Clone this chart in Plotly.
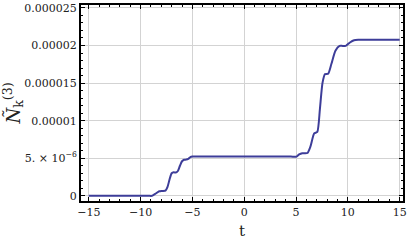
import plotly.graph_objects as go

t_vals = [-15, -10, -9.2, -8.9, -8.6, -8.2, -7.9, -7.6, -7.4, -7.2, -7.0, -6.8, -6.6, -6.4, -6.2, -6.0, -5.8,
          -5.6, -5.4, -5.2, -5.0, -4.5, 0, 4.5, 5.05, 5.3, 5.6, 6.1, 6.4, 6.75, 7.05, 7.3, 7.55, 7.8, 8.1,
          8.4, 8.8, 9.2, 9.5, 9.8, 10.2, 10.6, 11.0, 12, 15]
n_vals = [0, 0, 0, 0.0, 0.25e-6, 0.6e-6, 0.65e-6, 0.7e-6, 1.2e-6, 2.2e-6, 3.0e-6, 3.13e-6, 3.1e-6, 3.3e-6,
          4.0e-6, 4.6e-6, 4.8e-6, 4.82e-6, 4.9e-6, 5.15e-6, 5.22e-6, 5.22e-6, 5.22e-6, 5.22e-6, 5.22e-6,
          5.5e-6, 5.67e-6, 5.7e-6, 6.6e-6, 8.3e-6, 8.5e-6, 11.5e-6, 15.0e-6, 16.2e-6, 16.25e-6,
          17.5e-6, 19.3e-6, 19.95e-6, 19.95e-6, 19.95e-6, 20.4e-6, 20.7e-6, 20.76e-6, 20.76e-6, 20.76e-6]

y_tickvals = [0, 5e-6, 1e-5, 1.5e-5, 2e-5, 2.5e-5]
y_ticktext = ["0", "5. × 10<sup>−6</sup>", "0.00001", "0.000015", "0.00002", "0.000025"]
x_tickvals = [-15, -10, -5, 0, 5, 10, 15]
x_ticktext = ["−15", "−10", "−5", "0", "5", "10", "15"]

SERIF = "DejaVu Serif"

fig = go.Figure()
fig.add_trace(go.Scatter(x=t_vals, y=n_vals, mode="lines",
                         line=dict(color="#3d3d99", width=2, shape="spline", smoothing=0.6),
                         showlegend=False))

axis_common = dict(showline=True, linecolor="black", linewidth=2, mirror="ticks",
                   ticks="inside", ticklen=4, tickwidth=1, tickcolor="black",
                   showgrid=True, gridcolor="#d3d3d3", gridwidth=1, zeroline=False,
                   ticklabeloverflow="allow",
                   tickfont=dict(family=SERIF, size=11, color="#222222"))

fig.update_xaxes(range=[-15.75, 15.32], tickvals=x_tickvals, ticktext=x_ticktext,
                 minor=dict(ticks="inside", ticklen=2, tickcolor="black", dtick=1, showgrid=False),
                 title=dict(text="t", font=dict(family=SERIF, size=15, color="#222222"), standoff=8),
                 **axis_common)
fig.update_yaxes(range=[-0.69e-6, 2.539e-5], tickvals=y_tickvals, ticktext=y_ticktext,
                 minor=dict(ticks="inside", ticklen=2, tickcolor="black", dtick=1e-6, showgrid=False),
                 title=dict(text="<i>Ñ</i><sub>k</sub><sup>(3)</sup>",
                            font=dict(family=SERIF, size=18, color="#222222"), standoff=4),
                 **axis_common)

fig.update_layout(width=409, height=240, margin=dict(l=81, r=5, t=2, b=38),
                  plot_bgcolor="white", paper_bgcolor="white",
                  font=dict(family=SERIF))

fig.write_html("out.html", config={"displayModeBar": False},
               post_script="document.body.style.margin='0';document.body.style.padding='0';")
